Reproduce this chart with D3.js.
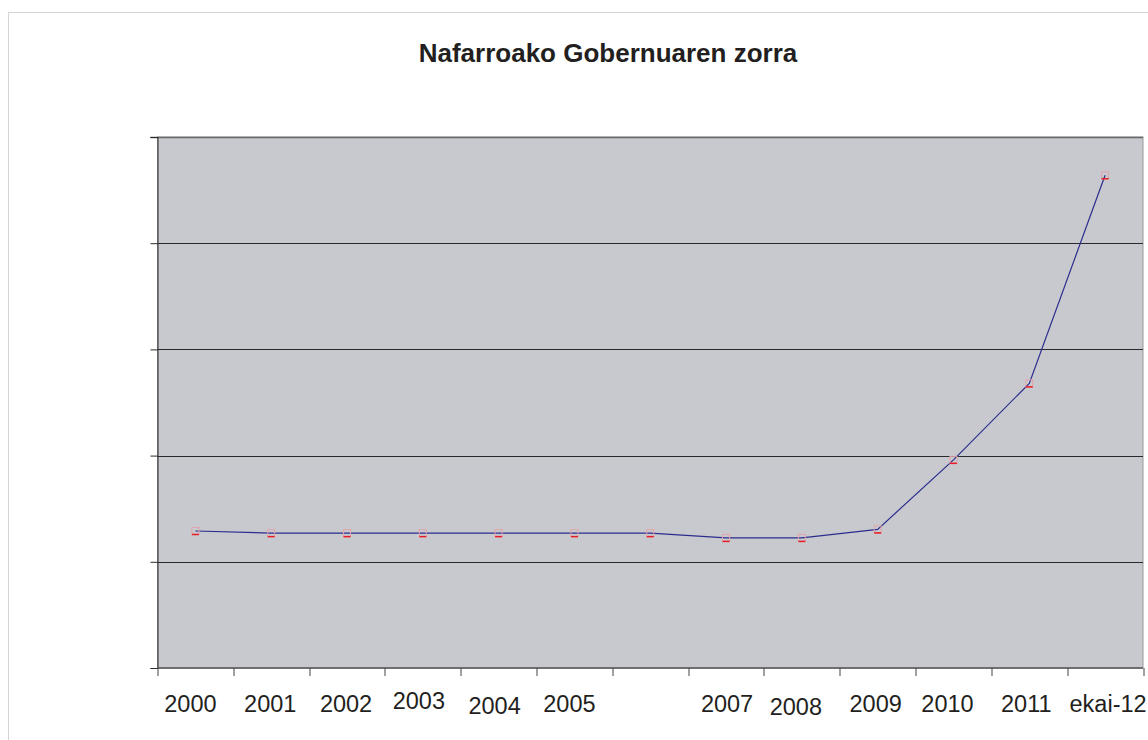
<!DOCTYPE html>
<html>
<head>
<meta charset="utf-8">
<script src="https://cdn.jsdelivr.net/npm/d3@7"></script>
<style>
  body { margin: 0; background: #fff; }
  text { font-family: "Liberation Sans", Arial, sans-serif; fill: #231f20; }
</style>
</head>
<body>
<div class="vis-linechart"></div>
<script>
// chart data
const categories = ["2000", "2001", "2002", "2003", "2004", "2005", "2006", "2007", "2008", "2009", "2010", "2011", "ekai-12"];
const tickLabels = ["2000", "2001", "2002", "2003", "2004", "2005", "", "2007", "2008", "2009", "2010", "2011", "ekai-12"];
const debt = [1290, 1270, 1270, 1270, 1270, 1270, 1270, 1225, 1225, 1305, 1960, 2680, 4640];
const yTicks = [0, 1000, 2000, 3000, 4000, 5000];
const title = "Nafarroako Gobernuaren zorra";

// small label nudges, Excel placed the category labels unevenly
const labelDx = [-5, -1, -1, -4, -4, -5, 0, 1, -6, -2, -6, -3, 3];
const labelDy = [0, 0, 0, -3, 2, 0, 0, 0, 3, 0, 0, 0, 0];

const W = 1148, H = 740;
let margin = { top: 137, right: 5, bottom: 72, left: 157.5 };
const width = W - margin.left - margin.right;
const height = H - margin.top - margin.bottom;

const root = d3.select(".vis-linechart").append("svg")
  .attr("width", W).attr("height", H);

// outer chart frame
root.append("rect")
  .attr("x", 8.5).attr("y", 12.5)
  .attr("width", W + 10).attr("height", H + 10)
  .attr("fill", "none").attr("stroke", "#d4d4d4");

root.append("text")
  .attr("x", 608).attr("y", 62)
  .attr("text-anchor", "middle")
  .style("font-size", "26px").style("font-weight", "bold")
  .text(title);

const svg = root.append("g")
  .attr("transform", "translate(" + margin.left + "," + margin.top + ")");

let x = d3.scaleBand().domain(categories).range([0, width]);
let y = d3.scaleLinear().domain([0, 5000]).range([height, 0]);

svg.append("rect")
  .attr("width", width).attr("height", height)
  .attr("fill", "#c8c9ce")
  .attr("stroke", "#9a9a9a");

// gridlines
svg.selectAll(".grid")
  .data(yTicks.slice(1, -1))
  .enter().append("line")
  .attr("x1", 0).attr("x2", width)
  .attr("y1", d => Math.round(y(d)) + 0.5).attr("y2", d => Math.round(y(d)) + 0.5)
  .attr("stroke", "#2a2a2a");

svg.append("line")
  .attr("x1", -7).attr("x2", width)
  .attr("y1", 0.5).attr("y2", 0.5)
  .attr("stroke", "#6a6a6a").attr("stroke-width", 1.5);

// y axis without labels
let yAxis = svg.append("g")
  .call(d3.axisLeft(y).tickValues(yTicks).tickSize(7).tickFormat(""));
yAxis.selectAll("line, path").attr("stroke", "#2a2a2a");

// x axis with ticks on band edges
const xAxisG = svg.append("g").attr("transform", "translate(0," + height + ")");
xAxisG.append("line")
  .attr("x1", 0).attr("x2", width)
  .attr("stroke", "#555").attr("stroke-width", 1.5);
const edges = categories.map(c => x(c)).concat([width]);
xAxisG.selectAll(".tick")
  .data(edges)
  .enter().append("line")
  .attr("x1", d => Math.round(d) + 0.5).attr("x2", d => Math.round(d) + 0.5)
  .attr("y1", 0).attr("y2", 8)
  .attr("stroke", "#444");

xAxisG.selectAll(".lbl")
  .data(tickLabels)
  .enter().append("text")
  .attr("x", (d, i) => x(categories[i]) + x.bandwidth() / 2 + labelDx[i])
  .attr("y", 44)
  .attr("dy", (d, i) => labelDy[i])
  .attr("text-anchor", "middle")
  .style("font-size", "23.5px")
  .text(d => d);

const pts = categories.map((c, i) => ({ c: c, v: debt[i] }));

let line = d3.line()
  .x(d => x(d.c) + x.bandwidth() / 2)
  .y(d => y(d.v));

svg.append("path")
  .datum(pts)
  .attr("fill", "none")
  .attr("stroke", "#2b2d8e")
  .attr("stroke-width", 1.2)
  .attr("d", line);

// square markers with a red bottom edge
const mk = svg.selectAll(".dot")
  .data(pts)
  .enter().append("g")
  .attr("transform", d => "translate(" + (x(d.c) + x.bandwidth() / 2) + "," + y(d.v) + ")");
mk.append("rect")
  .attr("x", -3.5).attr("y", -3.5)
  .attr("width", 7).attr("height", 7)
  .attr("fill", "none").attr("stroke", "#e3a3ab");
mk.append("line")
  .attr("x1", -3.5).attr("x2", 3.5)
  .attr("y1", 3.5).attr("y2", 3.5)
  .attr("stroke", "#e81c24").attr("stroke-width", 1.5);
</script>
</body>
</html>
